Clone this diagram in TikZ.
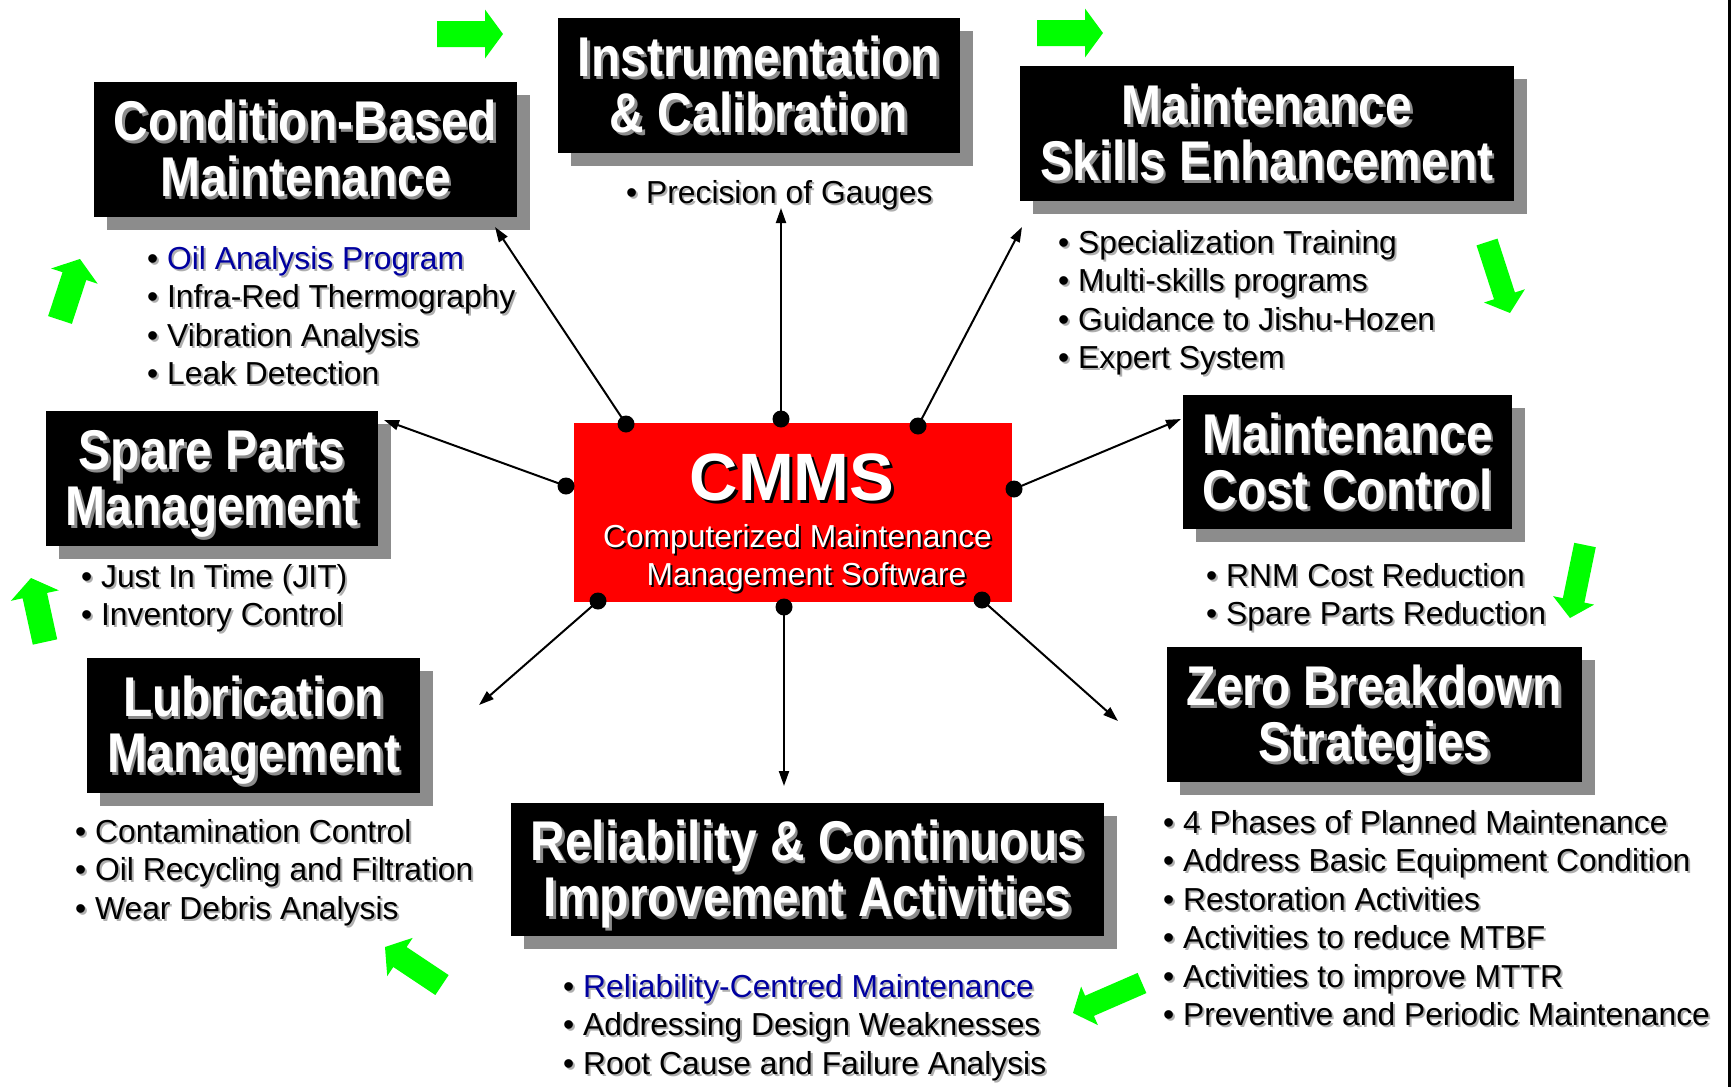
\documentclass[tikz,border=0pt]{standalone}
\usepackage{fontspec}
\setmainfont{Liberation Sans}
\newfontfamily\headfont{Liberation Sans}[FakeStretch=0.856]
\usetikzlibrary{calc,arrows.meta}

\definecolor{arrowgreen}{RGB}{0,255,0}
\definecolor{shadowgray}{RGB}{140,140,140}
\definecolor{itemblue}{RGB}{0,0,160}
\definecolor{cmmsred}{RGB}{255,0,0}
\definecolor{itemshade}{RGB}{175,175,175}

\newcommand\hlcolor{itemblue}
\newcommand\hl[1]{\textcolor{\hlcolor}{#1}}

\tikzset{
  boxshadow/.style={fill=shadowgray, draw=none},
  headbox/.style={fill=black, draw=none, inner sep=0pt},
  headtext/.style={text=white, font=\headfont\bfseries\fontsize{56}{56}\selectfont,
    inner sep=0pt, anchor=base},
  headshadow/.style={headtext, text=shadowgray},
  itemtext/.style={font=\fontsize{31.8}{38}\selectfont, inner sep=0pt, anchor=base west},
  itemshadow/.style={itemtext, text=itemshade,
    execute at begin node={\renewcommand\hlcolor{itemshade}}},
  cmmstitle/.style={font=\bfseries\fontsize{67}{67}\selectfont, inner sep=0pt, anchor=base},
  cmmssub/.style={font=\fontsize{31.8}{38}\selectfont, inner sep=0pt, anchor=base},
  hub/.style={circle, fill=black, inner sep=0pt, minimum size=17pt},
  link/.style={line width=2pt, -{Triangle[length=15pt,width=10pt]}},
  greenarrow/.style={fill=arrowgreen, draw=none},
}

% black heading box with offset shadow and two centred lines of text
% #1 name, #2 x1, #3 y1, #4 x2, #5 y2, #6 first line, #7 second line
\newcommand\headingbox[7]{%
  \fill[boxshadow] ({#2+13},{#3+13}) rectangle ({#4+13},{#5+13});
  \node[headbox, minimum width={(#4-#2)*1pt}, minimum height={(#5-#3)*1pt}]
    (#1) at ({(#2+#4)/2},{(#3+#5)/2}) {};
  \node[headshadow] at ($(#1.center)+(2.5,-6.5)$) {#6};
  \node[headtext] (#1-l1) at ($(#1.center)+(0,-9)$) {#6};
  \node[headshadow] at ($(#1.center)+(2.5,49.5)$) {#7};
  \node[headtext] (#1-l2) at ($(#1.center)+(0,47)$) {#7};
}

% bulleted list, one line per item, first baseline at (#2,#3)
\newcommand\itemlist[4]{%
  \foreach \itm [count=\k] in {#4} {
    \node[itemshadow] at ({#2+2},{#3+(\k-1)*38.5+2}) {\textbullet\ \ignorespaces\itm};
    \node[itemtext] (#1-\k) at ({#2},{#3+(\k-1)*38.5}) {\textbullet\ \ignorespaces\itm};
  }}

% green block arrow from tail #1 to tip #2, shaft half-width #3, head half-width #4
\newcommand\garrow[4]{%
  \coordinate (gT) at #1;
  \coordinate (gH) at #2;
  \coordinate (gN) at ($(gH)!18pt!(gT)$);
  \fill[greenarrow] ($(gT)!#3pt!90:(gH)$) -- ($(gN)!#3pt!-90:(gT)$)
    -- ($(gN)!#4pt!-90:(gT)$) -- (gH) -- ($(gN)!#4pt!90:(gT)$)
    -- ($(gN)!#3pt!90:(gT)$) -- ($(gT)!#3pt!-90:(gH)$) -- cycle;
}

\begin{document}
\begin{tikzpicture}[x=1pt, y=-1pt]
  \fill[white] (0,0) rectangle (1733,1087);
  \useasboundingbox (0,0) rectangle (1733,1087);

  % right margin rule
  \draw[line width=3pt] (1729,0) -- (1729,1087);

  % central CMMS block
  \node[fill=cmmsred, inner sep=0pt, minimum width=438pt, minimum height=179pt]
    (cmms) at (793,512.5) {};
  \node[cmmstitle, text=black] at (795,503) {CMMS};
  \node[cmmstitle, text=white] (cmms-t) at (792,500) {CMMS};
  \node[cmmssub, text=black] at (799.5,549) {Computerized Maintenance};
  \node[cmmssub, text=white] (cmms-s1) at (797.5,547) {Computerized Maintenance};
  \node[cmmssub, text=black] at (808.5,587) {Management Software};
  \node[cmmssub, text=white] (cmms-s2) at (806.5,585) {Management Software};

  % heading boxes
  \headingbox{cbm}{94}{82}{517}{217}{Condition-Based}{Maintenance}
  \headingbox{inst}{558}{18}{960}{153}{Instrumentation}{\& Calibration}
  \headingbox{skill}{1020}{66}{1514}{201}{Maintenance}{Skills Enhancement}
  \headingbox{spare}{46}{411}{378}{546}{Spare Parts}{Management}
  \headingbox{cost}{1183}{395}{1512}{529}{Maintenance}{Cost Control}
  \headingbox{lube}{87}{658}{420}{793}{Lubrication}{Management}
  \headingbox{zero}{1167}{647}{1582}{782}{Zero Breakdown}{Strategies}
  \headingbox{rel}{511}{803}{1104}{936}{Reliability \& Continuous}{Improvement Activities}

  % item lists
  \itemlist{cbmi}{147}{269}{\hl{Oil Analysis Program},Infra-Red Thermography,Vibration Analysis,Leak Detection}
  \itemlist{insti}{626}{203}{Precision of Gauges}
  \itemlist{skilli}{1058}{253}{Specialization Training,Multi-skills programs,Guidance to Jishu-Hozen,Expert System}
  \itemlist{sparei}{81}{587}{Just In Time (JIT),Inventory Control}
  \itemlist{costi}{1206}{586}{RNM Cost Reduction,Spare Parts Reduction}
  \itemlist{lubei}{75}{842}{Contamination Control,Oil Recycling and Filtration,Wear Debris Analysis}
  \itemlist{reli}{563}{997}{\hl{Reliability-Centred Maintenance},Addressing Design Weaknesses,Root Cause and Failure Analysis}
  \itemlist{zeroi}{1163}{833}{4 Phases of Planned Maintenance,Address Basic Equipment Condition,Restoration Activities,Activities to reduce MTBF,Activities to improve MTTR,Preventive and Periodic Maintenance}

  % connection points on the CMMS block
  \node[hub] (h1) at (626,424) {};
  \node[hub] (h2) at (781,419) {};
  \node[hub] (h3) at (918,426) {};
  \node[hub] (h4) at (566,486) {};
  \node[hub] (h5) at (1014,489) {};
  \node[hub] (h6) at (598,601) {};
  \node[hub] (h7) at (784,607) {};
  \node[hub] (h8) at (982,600) {};

  % arrow ends next to the surrounding blocks
  \coordinate (e1) at (495,227);
  \coordinate (e2) at (781,208);
  \coordinate (e3) at (1022,227);
  \coordinate (e4) at (384,420);
  \coordinate (e5) at (1181,419);
  \coordinate (e6) at (479,705);
  \coordinate (e7) at (784,786);
  \coordinate (e8) at (1118,721);

  \draw[link] (h1.center) -- (e1);
  \draw[link] (h2.center) -- (e2);
  \draw[link] (h3.center) -- (e3);
  \draw[link] (h4.center) -- (e4);
  \draw[link] (h5.center) -- (e5);
  \draw[link] (h6.center) -- (e6);
  \draw[link] (h7.center) -- (e7);
  \draw[link] (h8.center) -- (e8);

  % clockwise flow arrows
  \garrow{(437,34)}{(503,34)}{13}{24.5}
  \garrow{(1037,33)}{(1103,33)}{13}{24.5}
  \garrow{(1487,242)}{(1510,313)}{11}{21.5}
  \garrow{(1585,545)}{(1570,618)}{11}{21}
  \garrow{(1142,983)}{(1073,1013)}{11}{21}
  \garrow{(442,985)}{(385,947)}{12}{23}
  \garrow{(45,642)}{(31,578)}{12.5}{24.5}
  \garrow{(60,320)}{(80,259)}{12.5}{24.5}
\end{tikzpicture}
\end{document}
